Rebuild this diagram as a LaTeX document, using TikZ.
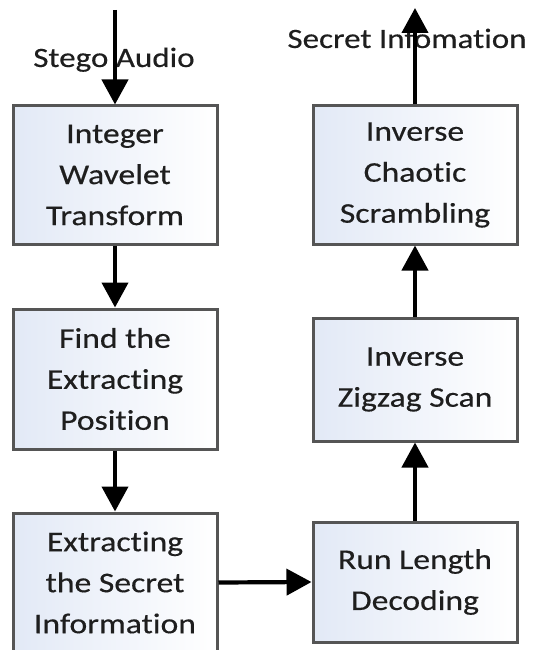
\documentclass[tikz,border=0pt]{standalone}
\usepackage{fontspec}
\setmainfont{Carlito}[FakeStretch=1.18, FakeBold=0.4, RawFeature={-liga;-clig;-dlig}]
\usetikzlibrary{arrows.meta}
\definecolor{boxborder}{RGB}{85,85,85}
\definecolor{boxfill}{RGB}{226,233,246}
\definecolor{txt}{RGB}{30,30,30}
\tikzset{
  procbox/.style={draw=boxborder, line width=3pt, left color=boxfill, right color=white,
    minimum width=204pt, inner sep=0pt, align=center, text=txt,
    font=\fontsize{28.5}{41}\selectfont},
  flowarrow/.style={draw=black, line width=4.2pt, -{Triangle[width=26pt,length=25pt]}},
  iolabel/.style={text=txt, inner sep=0pt, anchor=base, font=\fontsize{28}{41}\selectfont}
}
\begin{document}
\begin{tikzpicture}[x=1pt,y=-1pt]
\useasboundingbox (0,0) rectangle (539,650);
\fill[white] (0,0) rectangle (539,650);
% boxes
\node[procbox, minimum height=138pt] (b1) at (115,175) {Integer\\Wavelet\\Transform};
\node[procbox, minimum height=140pt] (b2) at (115,379) {Find the\\Extracting\\Position};
\node[procbox, minimum height=139pt] (b3) at (115,582.5) {Extracting\\the Secret\\Information};
\node[procbox, minimum height=138pt] (r1) at (415,175) {Inverse\\Chaotic\\Scrambling};
\node[procbox, minimum height=123pt] (r2) at (415,379.5) {Inverse\\Zigzag Scan};
\node[procbox, minimum height=120pt] (r3) at (415,582) {Run Length\\Decoding};
% labels
\node[iolabel] (lin) at (114,67) {Stego Audio};
\node[iolabel] (lout) at (407,48) {Secret Infomation};
% free ends
\coordinate (in) at (115,10);
\coordinate (out) at (415,8);
% arrows
\draw[flowarrow] (in) -- (b1.north);
\draw[flowarrow] (b1.south) -- (b2.north);
\draw[flowarrow] (b2.south) -- (b3.north);
\draw[flowarrow] (b3.east) -- (r3.west);
\draw[flowarrow] (r3.north) -- (r2.south);
\draw[flowarrow] (r2.north) -- (r1.south);
\draw[flowarrow] (r1.north) -- (out);
\end{tikzpicture}
\end{document}
